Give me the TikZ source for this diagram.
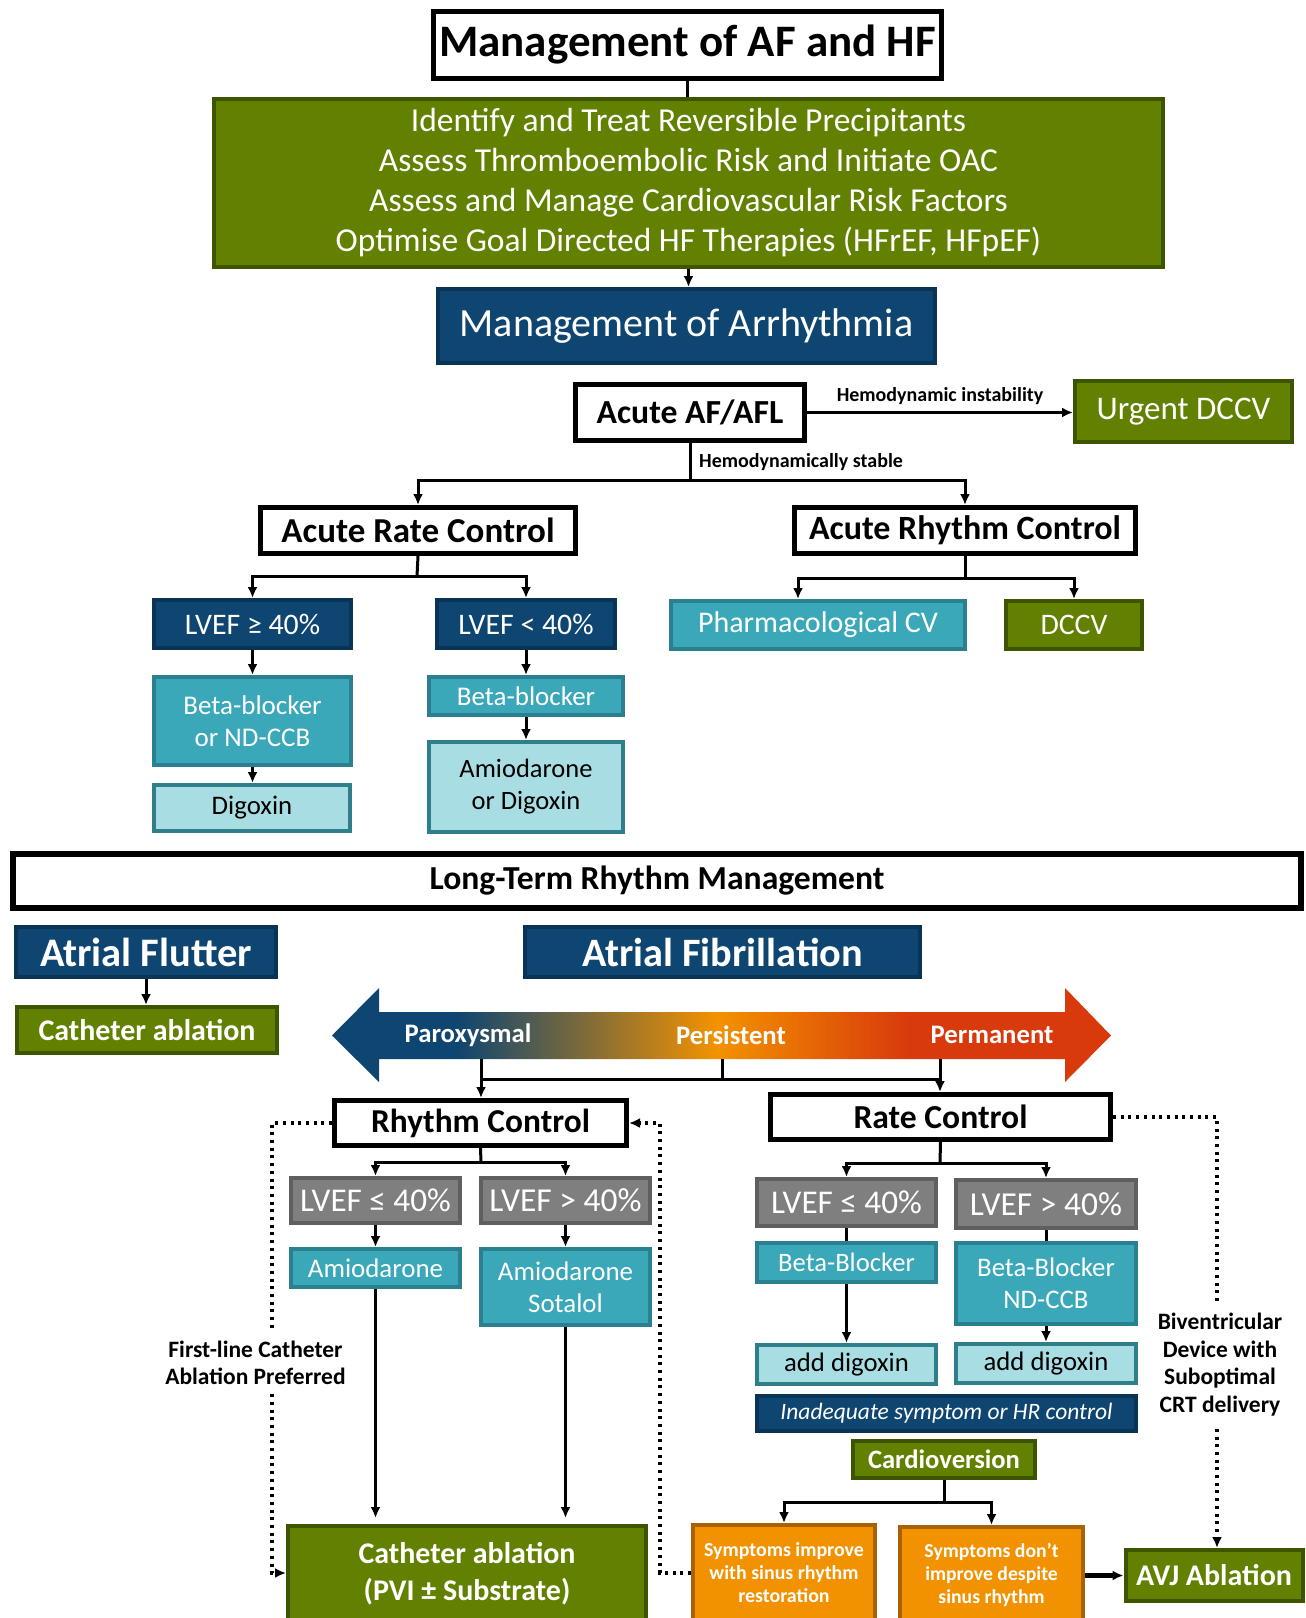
\documentclass[tikz,border=0pt]{standalone}
\usepackage{fontspec}
\setmainfont{Carlito}
\usetikzlibrary{arrows.meta}
\definecolor{cgreen}{HTML}{628100}
\definecolor{cgreenD}{HTML}{3E5500}
\definecolor{cblue}{HTML}{0F4571}
\definecolor{cblueD}{HTML}{0A3456}
\definecolor{cteal}{HTML}{3AA8B8}
\definecolor{ctealD}{HTML}{2B8090}
\definecolor{clight}{HTML}{A9DDE4}
\definecolor{clightD}{HTML}{2F7F8A}
\definecolor{cgray}{HTML}{7F7F7F}
\definecolor{cgrayD}{HTML}{5F5F5F}
\definecolor{corange}{HTML}{F39200}
\definecolor{corangeD}{HTML}{A86200}
\definecolor{cred}{HTML}{D83A0C}
\pgfdeclarehorizontalshading{afgrad}{100bp}{color(0bp)=(cblue); color(33bp)=(cblue); color(49.7bp)=(corange); color(62bp)=(cred); color(100bp)=(cred)}
\newcommand{\fsz}[2]{\fontsize{#1}{#2}\selectfont}
\tikzset{
  base/.style={inner sep=0pt, align=center, line width=4pt},
  wbox/.style={base, draw=black, fill=white, text=black, line width=5pt},
  gbox/.style={base, draw=cgreenD, fill=cgreen, text=white},
  bbox/.style={base, draw=cblueD, fill=cblue, text=white},
  tbox/.style={base, draw=ctealD, fill=cteal, text=white},
  lbox/.style={base, draw=clightD, fill=clight, text=black},
  gybox/.style={base, draw=cgrayD, fill=cgray, text=white},
  obox/.style={base, draw=corangeD, fill=corange, text=white},
  ln/.style={line width=3pt, draw=black},
  arr/.style={ln, -{Latex[length=11pt,width=10pt]}},
  dotln/.style={line width=3.5pt, dash pattern=on 3pt off 4.7pt, -{Latex[length=11pt,width=10pt]}},
  lab/.style={inner sep=2pt, align=center, text=black, font=\bfseries\fsz{23.5}{27.5}},
}
\begin{document}
\begin{tikzpicture}[x=1pt,y=-1pt]
\useasboundingbox (0,0) rectangle (1306,1618);
\clip (0,0) rectangle (1306,1618);

% ---- top part
\node[wbox, minimum width=508, minimum height=67, font=\bfseries\fsz{45}{50}] (title) at (687.5,45) {Management of AF and HF};
\node[gbox, minimum width=949, minimum height=168, font=\fsz{33.5}{40}] (pre) at (688.5,183)
  {Identify and Treat Reversible Precipitants\\Assess Thromboembolic Risk and Initiate OAC\\Assess and Manage Cardiovascular Risk Factors\\Optimise Goal Directed HF Therapies (HFrEF, HFpEF)};
\node[bbox, minimum width=497, minimum height=74, font=\fsz{40}{44}] (arrh) at (686.5,326) {Management of Arrhythmia};
\node[wbox, minimum width=229, minimum height=56, font=\bfseries\fsz{33.7}{38}] (acute) at (690,412.5) {Acute AF/AFL};
\node[gbox, minimum width=217, minimum height=61, font=\fsz{33}{36}] (urgent) at (1183.5,411.5) {Urgent DCCV};

\node[wbox, minimum width=315, minimum height=46, font=\bfseries\fsz{35}{38}] (arc) at (418,530.5) {Acute Rate Control};
\node[wbox, minimum width=341, minimum height=46, font=\bfseries\fsz{34}{38}] (arh) at (965,530.5) {Acute Rhythm Control};

\node[bbox, minimum width=197, minimum height=48, font=\fsz{29.8}{32}] (lv1) at (252.5,624) {LVEF ≥ 40\%};
\node[bbox, minimum width=178, minimum height=48, font=\fsz{29.8}{32}] (lv2) at (526,624) {LVEF < 40\%};
\node[tbox, minimum width=294, minimum height=48, font=\fsz{30}{32}] (pcv) at (818,625) {Pharmacological CV};
\node[gbox, minimum width=136, minimum height=48, font=\fsz{29.8}{32}] (dccv) at (1074,625) {DCCV};
\node[tbox, minimum width=197, minimum height=88, font=\fsz{27}{32}] (bb1) at (252.5,721) {Beta-blocker\\or ND-CCB};
\node[lbox, minimum width=196, minimum height=46, font=\fsz{26.8}{30}] (dig1) at (252,808) {Digoxin};
\node[tbox, minimum width=194, minimum height=38, font=\fsz{27}{30}] (bb2) at (526,696) {Beta-blocker};
\node[lbox, minimum width=194, minimum height=90, font=\fsz{26.5}{32}] (amdig) at (526,787) {Amiodarone\\or Digoxin};

% ---- long term
\node[wbox, line width=6pt, minimum width=1288, minimum height=54, font=\bfseries\fsz{33.6}{36}] (ltrm) at (657,881) {Long-Term Rhythm Management};
\node[bbox, minimum width=260, minimum height=50, font=\bfseries\fsz{40.5}{44}] (afl) at (146,952) {Atrial Flutter};
\node[bbox, minimum width=395, minimum height=50, font=\bfseries\fsz{40.3}{44}] (afib) at (722.5,952) {Atrial Fibrillation};
\node[gbox, minimum width=260, minimum height=46, font=\bfseries\fsz{30}{32}] (cab1) at (147,1030) {Catheter ablation};

\shade[shading=afgrad] (332,1035.5) -- (379,988) -- (379,1012) -- (1065,1012) -- (1065,988) -- (1111,1035.5)
  -- (1065,1082) -- (1065,1059) -- (379,1059) -- (379,1082) -- cycle;
\node[text=white, font=\bfseries\fsz{26.7}{30}] (parox) at (468,1035) {Paroxysmal};
\node[text=white, font=\bfseries\fsz{26.7}{30}] (persi) at (731,1035) {Persistent};
\node[text=white, font=\bfseries\fsz{26.7}{30}] (perma) at (992,1035) {Permanent};
\coordinate (pa) at (481,1059);
\coordinate (qa) at (722,1059);
\coordinate (ra) at (940,1059);
\coordinate (pj) at (481,1079);
\coordinate (qj) at (722,1079);
\coordinate (rj) at (940,1079);

\node[wbox, minimum width=292, minimum height=45, font=\bfseries\fsz{33.4}{36}] (rhy) at (480.5,1123) {Rhythm Control};
\node[wbox, minimum width=340, minimum height=45, font=\bfseries\fsz{33.6}{36}] (rate) at (940.5,1117) {Rate Control};

\node[gybox, minimum width=169, minimum height=45, font=\fsz{33.2}{36}] (rl1) at (375.5,1200.5) {LVEF ≤ 40\%};
\node[gybox, minimum width=169, minimum height=45, font=\fsz{33.5}{36}] (rl2) at (565.5,1200.5) {LVEF > 40\%};
\node[gybox, minimum width=179, minimum height=47, font=\fsz{33.2}{36}] (tl1) at (846.5,1202.5) {LVEF ≤ 40\%};
\node[gybox, minimum width=180, minimum height=48, font=\fsz{33.5}{36}] (tl2) at (1046,1204) {LVEF > 40\%};

\node[tbox, minimum width=169, minimum height=38, font=\fsz{26.9}{30}] (amio) at (375.5,1268) {Amiodarone};
\node[tbox, minimum width=169, minimum height=76, font=\fsz{26.9}{32}] (amso) at (565.5,1287) {Amiodarone\\Sotalol};
\node[tbox, minimum width=179, minimum height=39, font=\fsz{26.6}{30}] (bbr) at (846.5,1262.5) {Beta-Blocker};
\node[tbox, minimum width=180, minimum height=81, font=\fsz{26.8}{32}] (bbn) at (1046,1283.5) {Beta-Blocker\\ND-CCB};
\node[lbox, minimum width=179, minimum height=39, font=\fsz{26.7}{30}] (ad1) at (846.5,1364.5) {add digoxin};
\node[lbox, minimum width=180, minimum height=39, font=\fsz{26.7}{30}] (ad2) at (1046,1363.5) {add digoxin};
\node[bbox, minimum width=379, minimum height=35, font=\itshape\fsz{23.5}{26}] (inad) at (946.5,1413.5) {Inadequate symptom or HR control};
\node[gbox, minimum width=182, minimum height=37, font=\bfseries\fsz{26.6}{28}] (cv) at (944,1459.5) {Cardioversion};
\node[obox, minimum width=182, minimum height=96, font=\bfseries\fsz{19.9}{23}] (symi) at (784,1573) {Symptoms improve\\with sinus rhythm\\restoration};
\node[obox, minimum width=183, minimum height=96, font=\bfseries\fsz{19.7}{23}] (symd) at (991.5,1575) {Symptoms don’t\\improve despite\\sinus rhythm};
\node[gbox, minimum width=177, minimum height=51, font=\bfseries\fsz{30}{32}] (avj) at (1214,1575.5) {AVJ Ablation};
\node[gbox, minimum width=358, minimum height=96, font=\bfseries\fsz{30}{37}] (cab2) at (467,1574) {Catheter ablation\\(PVI ± Substrate)};

% ---- connectors top
\draw[ln] (title.south) -- (title.south |- pre.north);
\draw[arr] (pre.south) -- (pre.south |- arrh.north);
\draw[arr] (acute.east) -- (urgent.west |- acute.east)
  node[midway, above=3pt, font=\bfseries\fsz{20}{22}] (hil) {Hemodynamic instability};
\coordinate (j1) at (690,480);
\draw[ln] (acute.south) -- (j1);
\draw[arr] (j1) -| (arc.north);
\draw[arr] (j1) -| (arh.north);
\node[anchor=west, inner sep=0pt, font=\bfseries\fsz{20}{22}] (hsl) at (699,462) {Hemodynamically stable};

\coordinate (j2) at (417,576);
\draw[ln] (arc.south) -- (j2);
\draw[arr] (j2) -| (lv1.north);
\draw[arr] (j2) -| (lv2.north);
\coordinate (j3) at (965,578);
\coordinate (pcvin) at (798,600);
\draw[ln] (arh.south) -- (j3);
\draw[arr] (j3) -| (pcvin |- pcv.north);
\draw[arr] (j3) -| (dccv.north);
\draw[arr] (lv1.south) -- (lv1.south |- bb1.north);
\draw[arr] (bb1.south) -- (bb1.south |- dig1.north);
\draw[arr] (lv2.south) -- (lv2.south |- bb2.north);
\draw[arr] (bb2.south) -- (bb2.south |- amdig.north);

% ---- connectors long term
\draw[arr] (afl.south) -- (afl.south |- cab1.north);
\draw[ln] (qa) -- (qj);
\draw[ln] (pj) -- (rj);
\draw[arr] (pa) -- (pa |- rhy.north);
\draw[arr] (ra) -- (ra |- rate.north);

\coordinate (k1) at (481,1162);
\draw[ln] (rhy.south) -- (k1);
\draw[arr] (k1) -| (rl1.north);
\draw[arr] (k1) -| (rl2.north);
\coordinate (k2) at (940,1163);
\draw[ln] (rate.south) -- (k2);
\draw[arr] (k2) -| (tl1.north);
\draw[arr] (k2) -| (tl2.north);

\draw[arr] (rl1.south) -- (rl1.south |- amio.north);
\draw[arr] (rl2.south) -- (rl2.south |- amso.north);
\draw[arr, shorten >=6pt] (amio.south) -- (amio.south |- cab2.north);
\draw[arr, shorten >=6pt] (amso.south) -- (amso.south |- cab2.north);
\draw[ln] (tl1.south) -- (tl1.south |- bbr.north);
\draw[ln] (tl2.south) -- (tl2.south |- bbn.north);
\draw[arr] (bbr.south) -- (bbr.south |- ad1.north);
\draw[arr] (bbn.south) -- (bbn.south |- ad2.north);

\coordinate (m1) at (944,1502);
\draw[ln] (cv.south) -- (m1);
\draw[arr] (m1) -| (symi.north);
\draw[arr] (m1) -| (symd.north);
\draw[arr, line width=4.5pt] (symd.east |- avj.west) -- (avj.west);

% ---- dotted
\coordinate (d1) at (272,1123);
\coordinate (d2) at (272,1573);
\draw[dotln] (rhy.west) -- (d1) -- (d2) -- (d2 -| cab2.west);
\coordinate (e1) at (660,1573);
\coordinate (e2) at (660,1123);
\draw[dotln] (symi.west) -- (e1) -- (e2) -- (rhy.east);
\coordinate (f1) at (1217,1117);
\draw[dotln] (rate.east) -- (f1) -- (f1 |- avj.north);

\node[lab, fill=white, inner ysep=8pt] (flab) at (255.5,1363) {First-line Catheter\\Ablation Preferred};
\node[lab, fill=white, inner ysep=12pt] (bvlab) at (1220,1364.5) {Biventricular\\Device with\\Suboptimal\\CRT delivery};
\end{tikzpicture}
\end{document}
